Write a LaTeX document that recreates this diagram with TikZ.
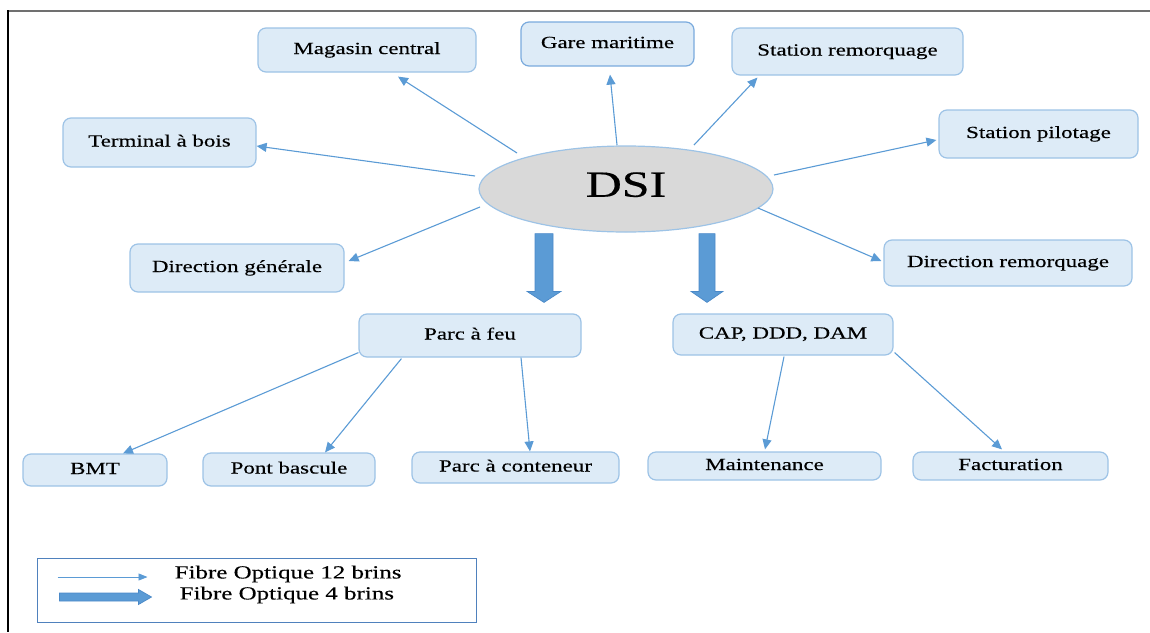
\documentclass[tikz,border=0pt]{standalone}
\usepackage{fontspec}
\setmainfont{Liberation Serif}[FakeStretch=1.35,FakeBold=0.35]
\usetikzlibrary{arrows.meta,calc,shapes.geometric}
\definecolor{boxfill}{HTML}{DDEBF7}
\definecolor{boxline}{HTML}{9DC3E6}
\definecolor{boxlinedark}{HTML}{7AAADD}
\definecolor{fibre}{HTML}{5B9BD5}
\definecolor{fibreedge}{HTML}{4A89C8}
\definecolor{dsigray}{HTML}{D9D9D9}
\definecolor{legline}{HTML}{4F81BD}
\definecolor{framegray}{HTML}{707070}
\begin{document}
\begin{tikzpicture}[x=1pt,y=-1pt,
  site/.style={draw=boxline, fill=boxfill, line width=1.2pt, rounded corners=8pt,
    inner sep=0pt, font=\fontsize{17}{20}\selectfont, text height=12pt, text depth=4pt},
  fo12/.style={draw=fibre, line width=1.1pt, -{Triangle[length=10pt,width=9pt]}},
  fo4/.style={fill=fibre, draw=fibreedge, line width=0.7pt, line join=miter},
]
\useasboundingbox (0,0) rectangle (1150,632);

% page frame
\draw[framegray, line width=1.6pt] (8,11) -- (1150,11);
\draw[black, line width=1.3pt] (8,10.2) -- (8,632);

% central node
\node[ellipse, draw=boxline, fill=dsigray, line width=1.2pt, inner sep=0pt,
      minimum width=294pt, minimum height=86pt, font=\fontsize{37}{40}\selectfont,
      text depth=9pt] (dsi) at (626,189) {DSI};

% sites linked with 12-strand fibre
\node[site, minimum width=218pt, minimum height=44pt] (mag) at (367,50) {Magasin central};
\node[site, draw=boxlinedark, minimum width=173pt, minimum height=44pt] (gare) at (607.5,44) {Gare maritime};
\node[site, minimum width=231pt, minimum height=47pt] (strem) at (847.5,51.5) {Station remorquage};
\node[site, minimum width=199pt, minimum height=48pt] (spil) at (1038.5,134) {Station pilotage};
\node[site, minimum width=248pt, minimum height=46pt] (drem) at (1008,263) {Direction remorquage};
\node[site, minimum width=193pt, minimum height=49pt] (term) at (159.5,142.5) {Terminal à bois};
\node[site, minimum width=214pt, minimum height=48pt] (dgen) at (237,268) {Direction générale};

% sites linked with 4-strand fibre
\node[site, minimum width=222pt, minimum height=43pt] (pfeu) at (470,335.5) {Parc à feu};
\node[site, minimum width=220pt, minimum height=41pt] (cap) at (783,334.5) {CAP, DDD, DAM};

% secondary sites
\node[site, minimum width=144pt, minimum height=32pt] (bmt) at (95,470) {BMT};
\node[site, minimum width=172pt, minimum height=33pt] (pont) at (289,469.5) {Pont bascule};
\node[site, minimum width=207pt, minimum height=31pt] (pcont) at (515.5,467.5) {Parc à conteneur};
\node[site, minimum width=233pt, minimum height=28pt] (maint) at (764.5,466) {Maintenance};
\node[site, minimum width=195pt, minimum height=28pt] (fact) at (1010.5,466) {Facturation};

% 12-strand links from DSI
\draw[fo12] ($(dsi)+(-109,-36)$) -- ($(mag.south)+(31,4)$);
\draw[fo12] ($(dsi)+(-9,-44)$) -- ($(gare.south)+(2.5,8)$);
\draw[fo12] ($(dsi)+(68,-44)$) -- ($(strem.south west)+(26,2)$);
\draw[fo12] ($(dsi)+(148,-14)$) -- ($(spil.west)+(-2,6)$);
\draw[fo12] ($(dsi)+(132,19)$) -- ($(drem.west)+(-2,-2)$);
\draw[fo12] ($(dsi)+(-151,-13)$) -- ($(term.east)+(0,3.5)$);
\draw[fo12] ($(dsi)+(-146,18)$) -- ($(dgen.east)+(4,-7)$);

% 12-strand links below
\draw[fo12] ($(pfeu.south west)+(0,-5)$) -- ($(bmt.north)+(28,0)$);
\draw[fo12] ($(pfeu.south west)+(43,1)$) -- ($(pont.north)+(36,0)$);
\draw[fo12] ($(pfeu.south)+(51,0)$) -- ($(pcont.north)+(14.5,0)$);
\draw[fo12] ($(cap.south)+(1,1)$) -- ($(maint.north)+(0.5,-2)$);
\draw[fo12] ($(cap.south east)+(1,-3)$) -- ($(fact.north)+(-8.5,-2)$);

% 4-strand links (block arrows)
\coordinate (a1) at ($(dsi.south)+(-82,1)$);
\coordinate (b1) at (a1|-pfeu.north);
\coordinate (t1) at ($(b1)+(0,-11)$);
\path[fo4] ($(a1)+(-9,0)$) -- ($(a1)+(9,0)$) -- ($(t1)+(9,-11)$) -- ($(t1)+(17,-11)$)
  -- (t1) -- ($(t1)+(-17,-11)$) -- ($(t1)+(-9,-11)$) -- cycle;
\coordinate (a2) at ($(dsi.south)+(81,1)$);
\coordinate (b2) at (a2|-cap.north);
\coordinate (t2) at ($(b2)+(0,-11)$);
\path[fo4] ($(a2)+(-8,0)$) -- ($(a2)+(8,0)$) -- ($(t2)+(8,-11)$) -- ($(t2)+(16,-11)$)
  -- (t2) -- ($(t2)+(-16,-11)$) -- ($(t2)+(-8,-11)$) -- cycle;

% legend
\node[draw=legline, line width=1pt, minimum width=439pt, minimum height=64pt, inner sep=0pt]
  (leg) at (256.5,590) {};
\draw[fibre, line width=0.9pt, -{Triangle[length=9pt,width=7pt]}]
  ($(leg.west)+(21,-13)$) -- ($(leg.west)+(111,-13)$);
\coordinate (la) at ($(leg.west)+(23,7)$);
\coordinate (lt) at ($(leg.west)+(115,7)$);
\path[fo4] ($(la)+(0,-4)$) -- ($(lt)+(-13,-4)$) -- ($(lt)+(-13,-7.5)$) -- (lt)
  -- ($(lt)+(-13,7.5)$) -- ($(lt)+(-13,4)$) -- ($(la)+(0,4)$) -- cycle;
\node[anchor=west, inner sep=0pt, font=\fontsize{18.5}{22}\selectfont]
  (l12) at ($(leg.west)+(138,-16)$) {Fibre Optique 12 brins};
\node[anchor=west, inner sep=0pt, font=\fontsize{18.5}{22}\selectfont]
  (l4) at ($(leg.west)+(143,5)$) {Fibre Optique 4 brins};
\end{tikzpicture}
\end{document}
